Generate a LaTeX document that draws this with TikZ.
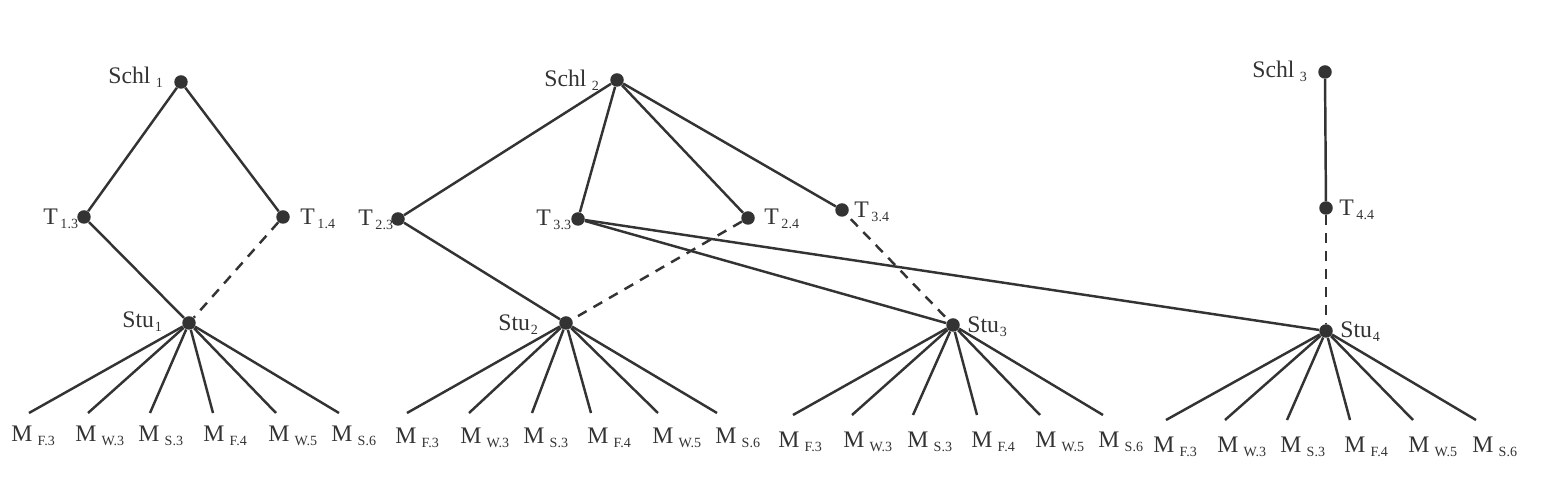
\documentclass[tikz,border=0pt]{standalone}
\usepackage{fontspec}
\setmainfont{Liberation Serif}
\definecolor{ink}{HTML}{333333}
\newcommand{\lbl}[3]{#1\hspace{#2}\raisebox{-2pt}{\fontsize{8}{9}\selectfont #3}}
\tikzset{
  dot/.style={circle, fill=ink, inner sep=0pt, minimum size=0.27cm},
  tag/.style={anchor=base west, inner sep=0pt, text=ink, font=\fontsize{13.5}{16}\selectfont},
  link/.style={draw=ink, line width=1.4pt},
  weak/.style={link, dash pattern=on 5.7pt off 4.5pt},
}
\begin{document}
\begin{tikzpicture}[x=0.02cm, y=-0.02cm]
    \useasboundingbox (0,0) rectangle (1556,492);
    % Schools
    \node[dot] (schl1) at (181,82) {};
    \node[dot] (schl2) at (617,80) {};
    \node[dot] (schl3) at (1325,72) {};
    \node[tag] (lschl1) at (108,84) {\lbl{Schl}{3pt}{1}};
    \node[tag] (lschl2) at (544,87) {\lbl{Schl}{3pt}{2}};
    \node[tag] (lschl3) at (1252,78) {\lbl{Schl}{3pt}{3}};

    % Teachers
    \node[dot] (t13) at (84,217) {};
    \node[dot] (t14) at (283,217) {};
    \node[dot] (t23) at (398,219) {};
    \node[dot] (t33) at (578,219) {};
    \node[dot] (t24) at (748,218) {};
    \node[dot] (t34) at (842,210) {};
    \node[dot] (t44) at (1326,208) {};
    \node[tag] (lt13) at (43,225) {\lbl{T}{1.5pt}{1.3}};
    \node[tag] (lt14) at (300,225) {\lbl{T}{1.5pt}{1.4}};
    \node[tag] (lt23) at (358,226) {\lbl{T}{1.5pt}{2.3}};
    \node[tag] (lt33) at (536,226) {\lbl{T}{1.5pt}{3.3}};
    \node[tag] (lt24) at (764,225) {\lbl{T}{1.5pt}{2.4}};
    \node[tag] (lt34) at (854,218) {\lbl{T}{1.5pt}{3.4}};
    \node[tag] (lt44) at (1339,216) {\lbl{T}{1.5pt}{4.4}};

    % Students
    \node[dot] (stu1) at (189,323) {};
    \node[dot] (stu2) at (566,323) {};
    \node[dot] (stu3) at (953,325) {};
    \node[dot] (stu4) at (1326,331) {};
    \node[tag] (lstu1) at (122,328) {\lbl{Stu}{0.5pt}{1}};
    \node[tag] (lstu2) at (498,331) {\lbl{Stu}{0.5pt}{2}};
    \node[tag] (lstu3) at (967,333) {\lbl{Stu}{0.5pt}{3}};
    \node[tag] (lstu4) at (1340,338) {\lbl{Stu}{0.5pt}{4}};

    % Solid links
    \draw[link] (schl1) -- (t13);
    \draw[link] (schl1) -- (t14);
    \draw[link] (t13) -- (stu1);
    \draw[link] (schl2) -- (t23);
    \draw[link] (schl2) -- (t33);
    \draw[link] (schl2) -- (t24);
    \draw[link] (schl2) -- (t34);
    \draw[link] (t23) -- (stu2);
    \draw[link] (t33) -- (stu3);
    \draw[link] (t33) -- (stu4);
    \draw[link] (schl3) -- (t44);

    % Dashed links
    \draw[weak] (t14) -- (stu1);
    \draw[weak] (t24) -- (stu2);
    \draw[weak, dash phase=7pt] (t34) -- (stu3);
    \draw[weak] (t44) -- (stu4);

    % Marks under Stu1
    \foreach \ex/\lx/\s [count=\i] in {29/11/F.3, 88/75/W.3, 150/138/S.3, 213/203/F.4, 276/268/W.5, 339/331/S.6}{
        \coordinate (a\i) at (\ex,413);
        \draw[link] (stu1) -- (a\i);
        \node[tag] (ma\i) at (\lx,442) {\lbl{M}{3pt}{\s}};
    }
    % Marks under Stu2
    \foreach \ex/\lx/\s [count=\i] in {407/395/F.3, 469/460/W.3, 532/523/S.3, 591/587/F.4, 658/652/W.5, 717/715/S.6}{
        \coordinate (b\i) at (\ex,413);
        \draw[link] (stu2) -- (b\i);
        \node[tag] (mb\i) at (\lx,444) {\lbl{M}{3pt}{\s}};
    }
    % Marks under Stu3
    \foreach \ex/\lx/\s [count=\i] in {793/778/F.3, 852/843/W.3, 913/907/S.3, 977/971/F.4, 1040/1035/W.5, 1103/1098/S.6}{
        \coordinate (c\i) at (\ex,415);
        \draw[link] (stu3) -- (c\i);
        \node[tag] (mc\i) at (\lx,448) {\lbl{M}{3pt}{\s}};
    }
    % Marks under Stu4
    \foreach \ex/\lx/\s [count=\i] in {1166/1153/F.3, 1225/1217/W.3, 1287/1280/S.3, 1350/1344/F.4, 1413/1408/W.5, 1476/1472/S.6}{
        \coordinate (d\i) at (\ex,420);
        \draw[link] (stu4) -- (d\i);
        \node[tag] (md\i) at (\lx,453) {\lbl{M}{3pt}{\s}};
    }
\end{tikzpicture}
\end{document}
